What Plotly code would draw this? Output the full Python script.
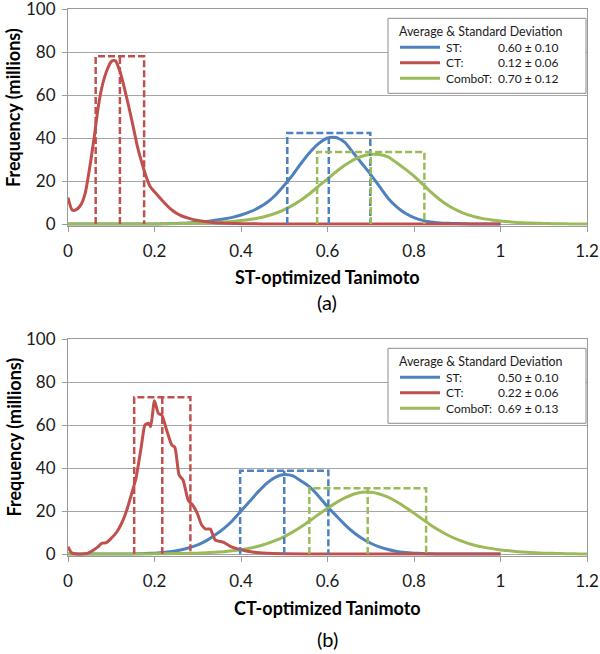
import plotly.graph_objects as go

# ---------------- data ----------------
SERIES = ["ST", "CT", "ComboT"]
COLORS = ["#4F81BD", "#C0504D", "#9BBB59"]
PANEL_LABELS = ["(a)", "(b)"]
X_TITLES = ["ST-optimized Tanimoto", "CT-optimized Tanimoto"]
Y_TITLE = "Frequency (millions)"
LEGEND_TITLE = "Average & Standard Deviation"

X_GRID_120 = [0.00, 0.02, 0.04, 0.06, 0.08, 0.10, 0.12, 0.14, 0.16, 0.18,
              0.20, 0.22, 0.24, 0.26, 0.28, 0.30, 0.32, 0.34, 0.36, 0.38,
              0.40, 0.42, 0.44, 0.46, 0.48, 0.50, 0.52, 0.54, 0.56, 0.58,
              0.60, 0.62, 0.64, 0.66, 0.68, 0.70, 0.72, 0.74, 0.76, 0.78,
              0.80, 0.82, 0.84, 0.86, 0.88, 0.90, 0.92, 0.94, 0.96, 0.98,
              1.00, 1.02, 1.04, 1.06, 1.08, 1.10, 1.12, 1.14, 1.16, 1.18, 1.20]
X_GRID_100 = X_GRID_120[:51]

# Panel (a): ST-optimized
ST_A = [0, 0, 0, 0, 0, 0, 0, 0, 0, 0, 0,
        0.1, 0.2, 0.3, 0.5, 0.8, 1.2, 1.7, 2.3, 3.1, 4.2,
        5.6, 7.5, 10, 13.5, 18, 23, 28.5, 33.5, 37.5, 40,
        40.2, 38, 33, 28, 23, 17.5, 12, 8, 5, 3,
        1.7, 0.9, 0.5, 0.3, 0.2, 0.1,
        0, 0, 0, 0]
COMBO_A = [0, 0, 0, 0, 0, 0, 0, 0, 0, 0, 0,
           0.1, 0.1, 0.2, 0.3, 0.4, 0.5, 0.7, 0.9, 1.2, 1.6,
           2.1, 2.8, 3.7, 5, 6.7, 8.8, 11.3, 14.3, 17.7, 21,
           24.3, 27.3, 29.8, 31.5, 32.4, 32.3, 31.2, 28.5, 25.5, 22.3,
           18.5, 14.7, 11.3, 8.5, 6.3, 4.6, 3.4, 2.5, 1.9, 1.4,
           1.0, 0.7, 0.5, 0.35, 0.25, 0.15, 0.1, 0.05, 0.02, 0]
CT_A_X = [0, 0.01, 0.02, 0.03, 0.04, 0.05, 0.06, 0.07, 0.08, 0.09, 0.10, 0.105,
          0.11, 0.12, 0.13, 0.14, 0.15, 0.16, 0.17, 0.18, 0.19, 0.20, 0.22,
          0.24, 0.26, 0.28, 0.30, 0.32, 0.34, 0.36, 0.38, 0.40, 0.45, 0.50,
          0.6, 0.7, 0.8, 0.9, 1.0]
CT_A = [12.3, 6.4, 6.8, 9, 14.5, 26, 39.5, 54.5, 65, 71.5, 75.5, 76,
        75.8, 71, 63.5, 55, 46, 36.5, 29, 22.5, 17.4, 15, 10.5,
        6.5, 4, 2.6, 1.6, 1.0, 0.6, 0.4, 0.25, 0.15, 0.05, 0,
        0, 0, 0, 0, 0]

# Panel (b): CT-optimized
ST_B = [0, 0, 0, 0, 0, 0, 0, 0,
        0.1, 0.2, 0.4, 0.7, 1.2, 1.9, 2.9, 4.2, 6.2, 8.8,
        11.8, 15.5, 20, 24.5, 29, 33, 35.8, 37, 36.3, 33.8,
        31, 26.8, 22, 17.8, 13.7, 10.1, 7.2, 5, 3.3, 2.1,
        1.2, 0.7, 0.4, 0.2, 0.1,
        0, 0, 0, 0, 0, 0, 0, 0]
COMBO_B = [0, 0, 0, 0, 0, 0, 0, 0, 0, 0,
           0.1, 0.1, 0.2, 0.2, 0.3, 0.4, 0.6, 0.8, 1.1, 1.5,
           2, 2.7, 3.6, 4.8, 6.3, 8.1, 10.3, 12.8, 15.6, 18.5,
           21.3, 23.9, 26.1, 27.8, 28.7, 28.7, 27.9, 26.4, 24.3, 21.8,
           19, 16.1, 13.3, 10.8, 8.6, 6.8, 5.3, 4.1, 3.2, 2.5,
           1.9, 1.5, 1.1, 0.8, 0.6, 0.4, 0.3, 0.2, 0.1, 0.05,
           0]
CT_B_X = [0, 0.008, 0.02, 0.04, 0.05, 0.06, 0.07, 0.078, 0.089, 0.10,
          0.112, 0.124, 0.136, 0.147, 0.157, 0.163, 0.17, 0.178, 0.186, 0.191,
          0.20, 0.209, 0.217, 0.228, 0.24, 0.247, 0.257, 0.266, 0.278, 0.288,
          0.299, 0.309, 0.319, 0.329, 0.34, 0.36, 0.375, 0.40, 0.43, 0.46,
          0.50, 0.6, 0.7, 0.8, 0.9, 1.0]
CT_B = [3.4, 0.6, 0, 0.1, 0.8, 2, 3.4, 5, 5.3, 7.3,
        10, 14.3, 20.5, 28, 35, 42, 50.7, 60, 60.8, 59.2,
        71.3, 65.4, 64.6, 57.7, 50.7, 49.6, 36.7, 34.4, 25, 22.8,
        18.9, 13.5, 11.6, 11.6, 6.6, 5.4, 3.6, 2, 0.8, 0.3,
        0.1, 0, 0, 0, 0, 0]

# mean / sd boxes (order: ST, CT, ComboT)
MEAN_A = [0.603, 0.12, 0.70]
SD_A = [0.096, 0.056, 0.124]
TOP_A = [42.3, 78, 33.5]
MEAN_B = [0.50, 0.218, 0.693]
SD_B = [0.102, 0.065, 0.135]
TOP_B = [38.7, 72.9, 30.6]
STATS_A = ["0.60 ± 0.10", "0.12 ± 0.06", "0.70 ± 0.12"]
STATS_B = ["0.50 ± 0.10", "0.22 ± 0.06", "0.69 ± 0.13"]

X_TICKS = [0, 0.2, 0.4, 0.6, 0.8, 1.0, 1.2]
X_TICK_TEXT = ["0", "0.2", "0.4", "0.6", "0.8", "1", "1.2"]
Y_TICKS = [0, 20, 40, 60, 80, 100]

# ---------------- figure ----------------
W, H = 600, 654
FONT = "Lato, 'Open Sans', sans-serif"
GRID = "#a6a6a6"
AXIS = "#9a9a9a"


def P(xp, yp):
    return xp / W, 1 - yp / H


panels = [
    dict(curves=[(X_GRID_100, ST_A, 0), (X_GRID_120, COMBO_A, 2), (CT_A_X, CT_A, 1)],
         mean=MEAN_A, sd=SD_A, top=TOP_A, stats=STATS_A),
    dict(curves=[(X_GRID_100, ST_B, 0), (X_GRID_120, COMBO_B, 2), (CT_B_X, CT_B, 1)],
         mean=MEAN_B, sd=SD_B, top=TOP_B, stats=STATS_B),
]

fig = go.Figure()
annotations = []
shapes = []
PLOT_TOP = [9, 339]
PLOT_BOTTOM = [224, 554]
X_LEFT, X_RIGHT = 68, 587
Y_MIN = -0.8
LEG_FONT = 12
LEG_TITLE_FONT = 12.4

for i, pn in enumerate(panels):
    xa = "x" if i == 0 else "x2"
    ya = "y" if i == 0 else "y2"
    for xs, ys, s in pn["curves"]:
        fig.add_trace(go.Scatter(x=xs, y=ys, mode="lines", xaxis=xa, yaxis=ya,
                                 line=dict(color=COLORS[s], width=3, shape="spline", smoothing=0.6),
                                 showlegend=False, hoverinfo="skip"))
    for s in range(3):
        m, sd, t = pn["mean"][s], pn["sd"][s], pn["top"][s]
        bx = [m - sd, m - sd, m + sd, m + sd, None, m, m]
        by = [0, t, t, 0, None, 0, t]
        fig.add_trace(go.Scatter(x=bx, y=by, mode="lines", xaxis=xa, yaxis=ya,
                                 line=dict(color=COLORS[s], width=2.5, dash="7px,3px"),
                                 showlegend=False, hoverinfo="skip"))

    # axes
    px_per_unit = (PLOT_BOTTOM[i] - PLOT_TOP[i]) / 100.0
    bottom_px = PLOT_BOTTOM[i] - Y_MIN * px_per_unit
    xdom = [P(X_LEFT, 0)[0], P(X_RIGHT, 0)[0]]
    ydom = [P(0, bottom_px)[1], P(0, PLOT_TOP[i])[1]]
    sfx = "" if i == 0 else "2"
    fig.update_layout(**{
        "xaxis" + sfx: dict(domain=xdom, range=[0, 1.2], anchor=ya, automargin=False,
                            tickvals=X_TICKS, ticktext=X_TICK_TEXT,
                            showgrid=False, zeroline=False,
                            showline=True, linecolor=AXIS, linewidth=1, mirror=True,
                            ticks="outside", ticklen=5, tickcolor=AXIS,
                            ticklabelstandoff=5, ticklabeloverflow="allow",
                            tickfont=dict(family=FONT, size=17, color="#1a1a1a")),
        "yaxis" + sfx: dict(domain=ydom, range=[Y_MIN, 100], anchor=xa, automargin=False,
                            tickvals=Y_TICKS, showgrid=True, gridcolor=GRID, gridwidth=1,
                            zeroline=False, showline=True, linecolor=AXIS, linewidth=1,
                            mirror=True, ticks="outside", ticklen=5, tickcolor=AXIS,
                            ticklabelstandoff=3, ticklabeloverflow="allow",
                            tickfont=dict(family=FONT, size=17, color="#1a1a1a")),
    })

    off = PLOT_TOP[i] - PLOT_TOP[0]
    # axis titles
    title_y = [277, 607.5][i]
    label_y = [301.5, 639][i]
    ytitle_c = [108, 437.5][i]
    x0, y0 = P(327.5, title_y)
    annotations.append(dict(x=x0, y=y0, xref="paper", yref="paper", text="<b>" + X_TITLES[i] + "</b>",
                            showarrow=False, xanchor="center", yanchor="middle",
                            font=dict(family=FONT, size=18, color="#000")))
    x0, y0 = P(327.5, label_y)
    annotations.append(dict(x=x0, y=y0, xref="paper", yref="paper", text=PANEL_LABELS[i],
                            showarrow=False, xanchor="center", yanchor="middle",
                            font=dict(family=FONT, size=20, color="#000")))
    x0, y0 = P(13, ytitle_c)
    annotations.append(dict(x=x0, y=y0, xref="paper", yref="paper", text="<b>" + Y_TITLE + "</b>",
                            showarrow=False, xanchor="center", yanchor="middle", textangle=-90,
                            font=dict(family=FONT, size=18, color="#000")))

    # legend box
    bx0, by0 = P(388, 18.3 + off)
    bx1, by1 = P(586, 93.3 + off)
    shapes.append(dict(type="rect", xref="paper", yref="paper", x0=bx0, y0=by1, x1=bx1, y1=by0,
                       line=dict(color="#8c8c8c", width=1), fillcolor="white", layer="above"))
    tx, ty = P(397, 31 + off)
    annotations.append(dict(x=tx, y=ty, xref="paper", yref="paper", text=LEGEND_TITLE,
                            showarrow=False, xanchor="left", yanchor="middle",
                            font=dict(family=FONT, size=LEG_TITLE_FONT, color="#1a1a1a")))
    rows = [47.3, 62.7, 78.3]
    for s in range(3):
        lx0, ly = P(400, rows[s] + off)
        lx1, _ = P(440, rows[s] + off)
        shapes.append(dict(type="line", xref="paper", yref="paper", x0=lx0, x1=lx1, y0=ly, y1=ly,
                           line=dict(color=COLORS[s], width=3), layer="above"))
        nx, _ = P(444, 0)
        annotations.append(dict(x=nx, y=ly, xref="paper", yref="paper", text=SERIES[s] + ":",
                                showarrow=False, xanchor="left", yanchor="middle",
                                font=dict(family=FONT, size=LEG_FONT, color="#1a1a1a")))
        vx, _ = P(561, 0)
        annotations.append(dict(x=vx, y=ly, xref="paper", yref="paper", text=pn["stats"][s],
                                showarrow=False, xanchor="right", yanchor="middle",
                                font=dict(family=FONT, size=LEG_FONT, color="#1a1a1a")))

fig.update_layout(width=W, height=H, margin=dict(l=0, r=0, t=0, b=0, autoexpand=False),
                  paper_bgcolor="white", plot_bgcolor="white",
                  showlegend=False, annotations=annotations, shapes=shapes,
                  font=dict(family=FONT))

# remove the page's default 8px body margin so the figure fills the window
fig.write_html("out.html", config={"displayModeBar": False},
               post_script="document.body.style.margin='0';document.body.style.overflow='hidden';")
